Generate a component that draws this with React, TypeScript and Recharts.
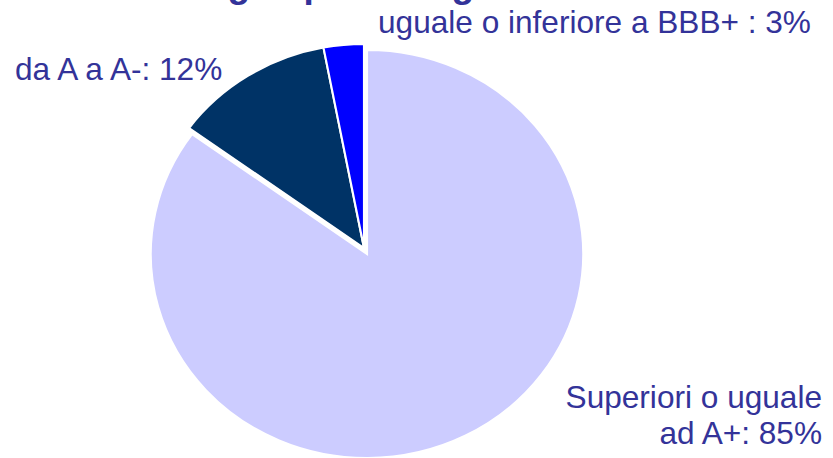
import React from 'react';
import { PieChart, Pie, Cell } from 'recharts';

// ---- data ----
const categories = ['Superiori o uguale\nad A+', 'da A a A-', 'uguale o inferiore a BBB+ '];
const shares = [85, 12, 3];
const colors = ['#CCCCFF', '#003366', '#0000FF'];
const titleText = 'Portafoglio per rating';

const data = categories.map((name, i) => ({ name, value: shares[i] }));

// ---- layout / style ----
const W = 833;
const H = 458;
const CX = 364;
const CY = 248;
const R = 204;
const STRETCH_X = 1.06;
const LIGHT_OFFSET = { dx: 3, dy: 6 };
const TEXT_COLOR = '#333399';
const FONT = "'Liberation Sans', Arial, Helvetica, sans-serif";
const LABEL_POS: { dx: number; dy: number; anchor: 'start' | 'end' }[] = [
  { dx: 455, dy: 154, anchor: 'end' },
  { dx: -349, dy: -168, anchor: 'start' },
  { dx: 14, dy: -215, anchor: 'start' },
];

const makeLabel = (only: number[]) => (props: any) => {
  const { cx, cy, index } = props;
  if (!only.includes(index)) return <g />;
  const p = LABEL_POS[index];
  const lines = `${data[index].name}: ${data[index].value}%`.split('\n');
  const x = cx + p.dx;
  return (
    <text x={x} y={cy + p.dy} textAnchor={p.anchor} fill={TEXT_COLOR} fontSize={31.6} fontFamily={FONT}>
      {lines.map((l, k) => (
        <tspan key={k} x={x} dy={k === 0 ? 0 : 36}>
          {l}
        </tspan>
      ))}
    </text>
  );
};

const css = `
.pie-main .recharts-sector { transform-origin: ${CX}px ${CY}px; transform: scaleX(${STRETCH_X}); }
.pie-light .recharts-sector { transform-origin: ${CX + LIGHT_OFFSET.dx}px ${CY + LIGHT_OFFSET.dy}px; transform: scaleX(${STRETCH_X}); }
`;

export default function App() {
  return (
    <div style={{ position: 'absolute', left: 0, top: 0, width: W, height: H, background: '#fff', overflow: 'hidden' }}>
      <style>{css}</style>
      <PieChart width={W} height={H} margin={{ top: 0, right: 0, bottom: 0, left: 0 }}>
        <Pie
          className="pie-light"
          data={data}
          dataKey="value"
          nameKey="name"
          cx={CX + LIGHT_OFFSET.dx}
          cy={CY + LIGHT_OFFSET.dy}
          outerRadius={R}
          startAngle={90}
          endAngle={-270}
          isAnimationActive={false}
          labelLine={false}
          label={makeLabel([0])}
        >
          {data.map((d, i) =>
            i === 0 ? (
              <Cell key={i} fill={colors[i]} stroke="#ffffff" strokeWidth={2} />
            ) : (
              <Cell key={i} fill="none" stroke="none" />
            )
          )}
        </Pie>
        <Pie
          className="pie-main"
          data={data}
          dataKey="value"
          nameKey="name"
          cx={CX}
          cy={CY}
          outerRadius={R}
          startAngle={90}
          endAngle={-270}
          isAnimationActive={false}
          labelLine={false}
          label={makeLabel([1, 2])}
        >
          {data.map((d, i) =>
            i === 0 ? (
              <Cell key={i} fill="none" stroke="none" />
            ) : (
              <Cell key={i} fill={colors[i]} stroke="#ffffff" strokeWidth={2} />
            )
          )}
        </Pie>
      </PieChart>
      <svg width={W} height={20} style={{ position: 'absolute', left: 0, top: 0 }}>
        <text x={98} y={-3} fill={TEXT_COLOR} fontSize={37} fontWeight="bold" fontFamily={FONT}>
          {titleText}
        </text>
      </svg>
    </div>
  );
}
